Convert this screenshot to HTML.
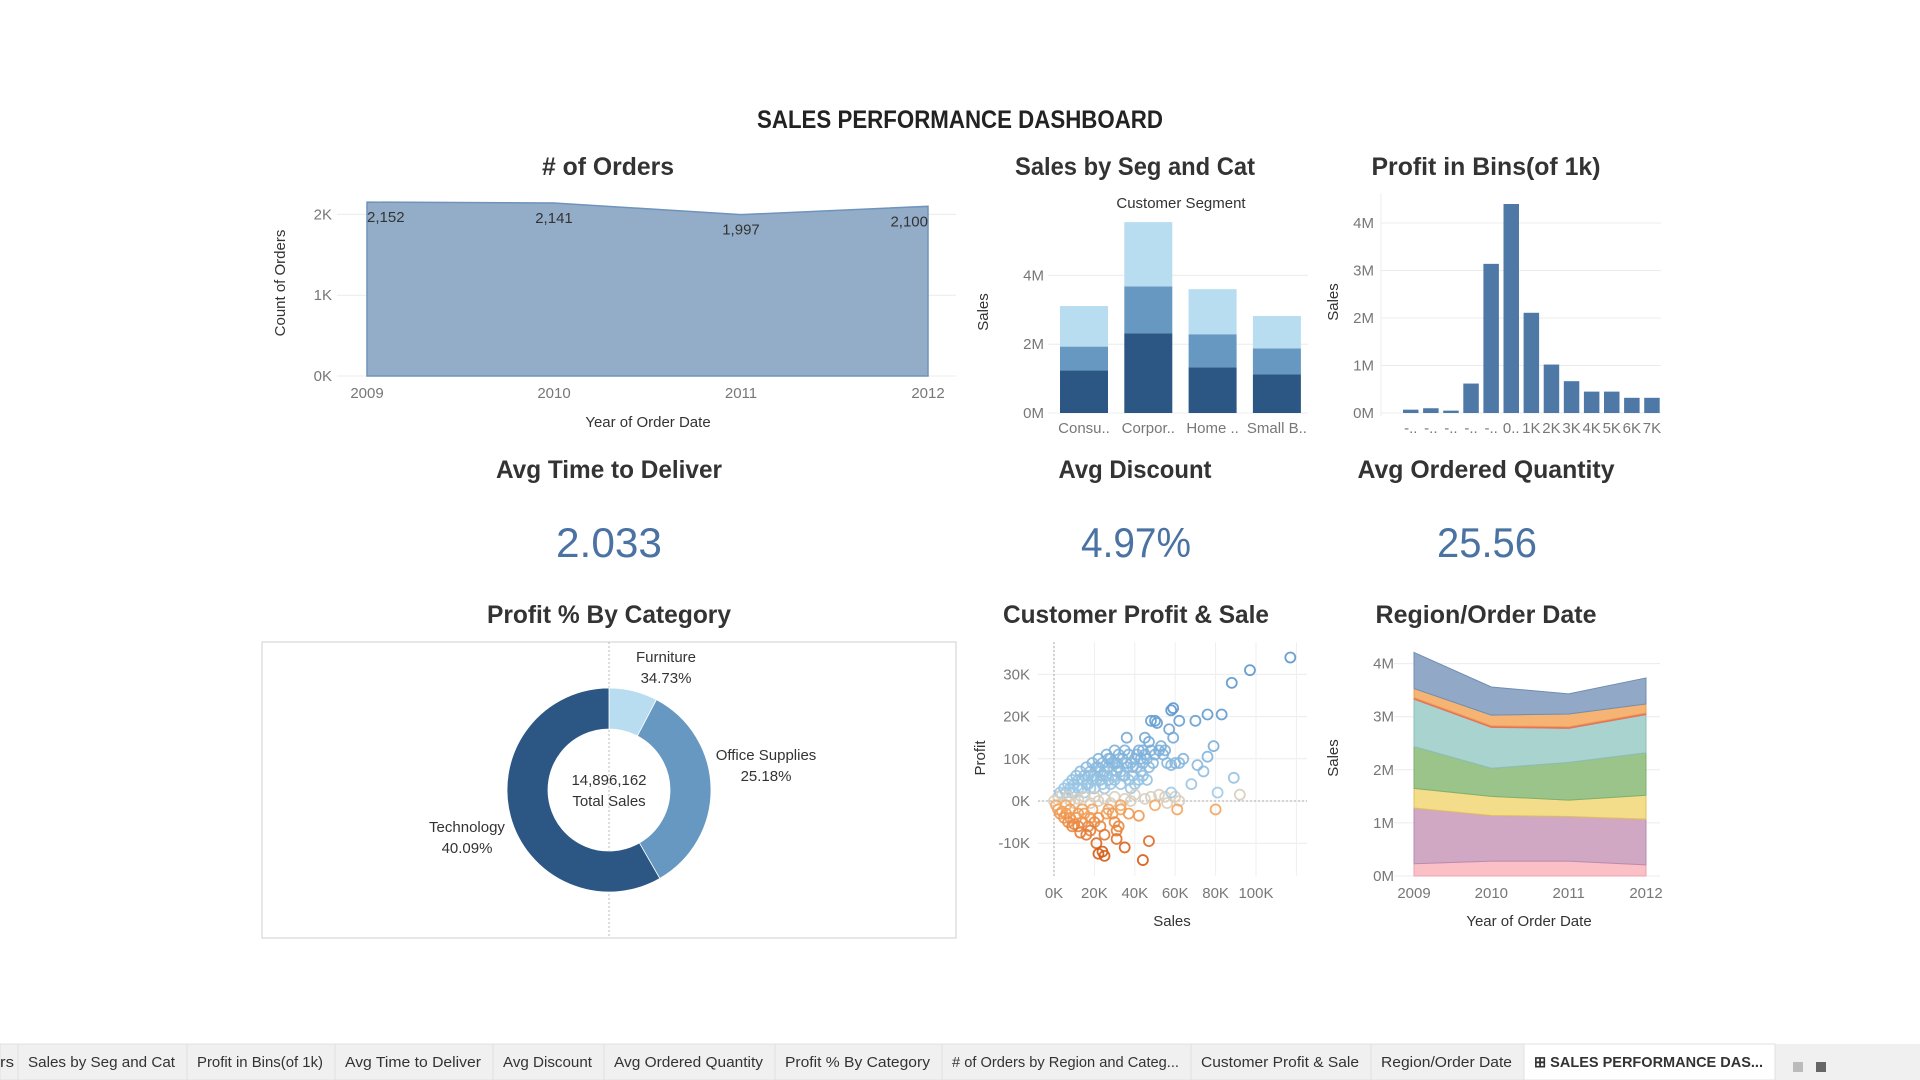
<!DOCTYPE html>
<html><head><meta charset="utf-8"><title>Sales Performance Dashboard</title>
<style>
html,body{margin:0;padding:0;background:#fff;width:1920px;height:1080px;overflow:hidden}
svg{display:block;font-family:"Liberation Sans",sans-serif}
.t{font-weight:bold;fill:#333;font-size:25px}
.tick{fill:#777;font-size:15px}
.lab{fill:#333;font-size:15px}
.kpi{fill:#4a72a3;font-size:42px}
.tab{fill:#333;font-size:15px}
</style></head>
<body>
<svg id="dash" width="1920" height="1080" viewBox="0 0 1920 1080">
<text x="960" y="128" text-anchor="middle" font-size="25" font-weight="bold" fill="#222" textLength="406" lengthAdjust="spacingAndGlyphs">SALES PERFORMANCE DASHBOARD</text>
<text class="t" x="608" y="175" text-anchor="middle" textLength="132" lengthAdjust="spacingAndGlyphs"># of Orders</text>
<text class="t" x="1135" y="175" text-anchor="middle" textLength="240" lengthAdjust="spacingAndGlyphs">Sales by Seg and Cat</text>
<text class="t" x="1486" y="175" text-anchor="middle" textLength="229" lengthAdjust="spacingAndGlyphs">Profit in Bins(of 1k)</text>
<text class="t" x="609" y="478" text-anchor="middle" textLength="226" lengthAdjust="spacingAndGlyphs">Avg Time to Deliver</text>
<text class="t" x="1135" y="478" text-anchor="middle" textLength="153" lengthAdjust="spacingAndGlyphs">Avg Discount</text>
<text class="t" x="1486" y="478" text-anchor="middle" textLength="257" lengthAdjust="spacingAndGlyphs">Avg Ordered Quantity</text>
<text class="kpi" x="609" y="557" text-anchor="middle" textLength="106" lengthAdjust="spacingAndGlyphs">2.033</text>
<text class="kpi" x="1136" y="557" text-anchor="middle" textLength="110" lengthAdjust="spacingAndGlyphs">4.97%</text>
<text class="kpi" x="1487" y="557" text-anchor="middle" textLength="100" lengthAdjust="spacingAndGlyphs">25.56</text>
<text class="t" x="609" y="623" text-anchor="middle" textLength="244" lengthAdjust="spacingAndGlyphs">Profit % By Category</text>
<text class="t" x="1136" y="623" text-anchor="middle" textLength="266" lengthAdjust="spacingAndGlyphs">Customer Profit &amp; Sale</text>
<text class="t" x="1486" y="623" text-anchor="middle" textLength="221" lengthAdjust="spacingAndGlyphs">Region/Order Date</text>
<g id="orders"></g>
<g id="seg"></g>
<g id="bins"></g>
<g id="donut"></g>
<g id="scatter"></g>
<g id="region"></g>
<g id="tabs"></g>
</svg>
<script>
const orderYears = [2009, 2010, 2011, 2012];
const orderCounts = [2152, 2141, 1997, 2100];
const orderTicks = ["0K", "1K", "2K"];

const segCategories = ["Consu..", "Corpor..", "Home ..", "Small B.."];
const segTechnology = [1.24, 2.32, 1.33, 1.12];
const segOffice = [0.69, 1.36, 0.96, 0.76];
const segFurniture = [1.18, 1.87, 1.31, 0.94];
const segTicks = ["0M", "2M", "4M"];

const binLabels = ["-..", "-..", "-..", "-..", "-..", "0..", "1K", "2K", "3K", "4K", "5K", "6K", "7K"];
const binSales = [0.07, 0.10, 0.05, 0.62, 3.14, 4.40, 2.11, 1.02, 0.67, 0.45, 0.45, 0.32, 0.32];
const binTicks = ["0M", "1M", "2M", "3M", "4M"];

const donutCategories = ["Furniture", "Office Supplies", "Technology"];
const donutShares = [0.077, 0.340, 0.583];
const donutProfitPct = ["34.73%", "25.18%", "40.09%"];
const totalSales = "14,896,162";

const scatterSales = [2,3,4,5,6,7,8,9,10,11,12,13,14,15,16,17,18,19,20,21,22,23,24,25,26,27,28,29,30,31,32,33,34,35,36,37,38,39,40,41,42,43,44,45,46,47,48,49,50,52,54,56,58,60,62,64,53,55,47,44,10,12,14,15,17,19,20,21,23,24,25,26,27,28,30,31,33,35,37,38,40,42,44,46,29,32,34,36,24,18,16,9,7,22,27,30,39,41,43,
8,12,15,20,25,30,35,40,45,48,55,60,62,50,56,58,52,38,28,33,18,22,10,81,92,89,80,61,68,74,71,76,79,
117,97,88,59,58,83,76,70,50,48,51,62,57,36,45,59,
0,1,2,3,4,5,6,7,8,9,10,11,12,13,14,15,16,17,18,19,20,21,22,23,24,25,26,27,29,30,31,31,32,33,35,37,42,44,47,25,22,18,14,6,8,12];
const scatterProfit = [1,2,1.5,3,2,4,3,5,4,6,3,7,5,6,8,4,7,9,6,8,10,5,9,7,11,8,10,6,12,9,11,7,10,12,8,11,9,6,10,8,12,7,9,11,10,8,12,9,11,12,11,9,8.5,9,9,10,13,12,14,12,2,5,3,2,6,5,3,5,7,4,3,6,5,4,5,7,4,6,5,3,4,5,6,5,9,8,6,9,6,3,4,2,1,8,10,9,8,11,10,
0,0.5,1,1,0.5,1,0.5,1.5,0.5,1,1,1,0,-1,-0.5,2,1.5,0,-0.5,-1,-0.5,0,-0.5,2,1.5,5.5,-2,-2,4,7,8.5,10.5,13,
34,31,28,22,21.5,20.5,20.5,19,19,19,18.5,19,17,15,15,15,
0,-1,-2,-3,-2.5,-4,-3,-5,-4,-6,-5.5,-4,-6,-7.5,-5,-3,-8,-6,-4,-2,-5,-10,-12.5,-6,-12,-13,-3,-2,-3,-5,-7,-9,-6,-2,-11,-3,-3.5,-14,-9.5,-8,-4,-7,-2,-1,-2,-3];
const scatterXTicks = ["0K","20K","40K","60K","80K","100K"];
const scatterYTicks = ["-10K","0K","10K","20K","30K"];

const regionYears = [2009, 2010, 2011, 2012];
const regionPink = [0.23, 0.28, 0.28, 0.21];
const regionPurple = [1.05, 0.86, 0.84, 0.86];
const regionYellow = [0.37, 0.36, 0.31, 0.45];
const regionGreen = [0.79, 0.53, 0.71, 0.80];
const regionTeal = [0.89, 0.77, 0.64, 0.72];
const regionRed = [0.03, 0.03, 0.03, 0.03];
const regionOrange = [0.17, 0.20, 0.24, 0.17];
const regionBlue = [0.68, 0.53, 0.38, 0.49];
const regionTicks = ["0M", "1M", "2M", "3M", "4M"];

const tabNames = ["rs","Sales by Seg and Cat","Profit in Bins(of 1k)","Avg Time to Deliver","Avg Discount","Avg Ordered Quantity","Profit % By Category","# of Orders by Region and Categ...","Customer Profit & Sale","Region/Order Date","\u229E SALES PERFORMANCE DAS..."];

const NS = "http://www.w3.org/2000/svg";
function mk(parent, tag, attrs, txt) {
  const e = document.createElementNS(NS, tag);
  for (const k in attrs) e.setAttribute(k, attrs[k]);
  if (txt !== undefined) e.textContent = txt;
  parent.appendChild(e);
  return e;
}
function grid(g, x1, x2, y) {
  const l = mk(g, "line", {x1: x1, x2: x2, y1: y, y2: y, stroke: "#ececec", "stroke-width": 1});
  
  
}
function txt(g, x, y, t, cls, anchor, name, extra) {
  const e = mk(g, "text", Object.assign({x: x, y: y, class: cls, "text-anchor": anchor}, extra || {}), t);
  
  
  return e;
}

// orders
(function () {
  const g = document.getElementById("orders");
  const x = i => 367 + i * (928 - 367) / 3;
  const y = v => 376 - v * 0.0808;
  orderTicks.forEach((t, i) => {
    grid(g, 337, 956, y(i * 1000));
    txt(g, 332, y(i * 1000) + 5, t, "tick", "end", "orders-y-tick");
  });
  let d = "M" + x(0) + "," + y(0);
  orderCounts.forEach((v, i) => { d += " L" + x(i) + "," + y(v); });
  d += " L" + x(3) + "," + y(0) + " Z";
  const p = mk(g, "path", {d: d, fill: "#93adc9", stroke: "#6f93bb", "stroke-width": 1.5});
  
  
  orderCounts.forEach((v, i) => {
    const a = i === 0 ? "start" : (i === 3 ? "end" : "middle");
    txt(g, x(i), y(v) + 20, v.toLocaleString("en-US"), "lab", a, "orders-value-label");
  });
  orderYears.forEach((yr, i) => txt(g, x(i), 398, String(yr), "tick", "middle", "orders-x-tick"));
  txt(g, 648, 427, "Year of Order Date", "lab", "middle", "orders-x-axis-title");
  txt(g, 0, 0, "Count of Orders", "lab", "middle", "orders-y-axis-title", {transform: "translate(285,283) rotate(-90)"});
})();

// sales by segment
(function () {
  const g = document.getElementById("seg");
  const y = v => 413 - v * 34.4;
  segTicks.forEach((t, i) => {
    grid(g, 1048, 1308, y(i * 2));
    txt(g, 1044, y(i * 2) + 5, t, "tick", "end", "seg-y-tick");
  });
  txt(g, 1181, 208, "Customer Segment", "lab", "middle", "seg-header");
  txt(g, 0, 0, "Sales", "lab", "middle", "seg-y-axis-title", {transform: "translate(988,312) rotate(-90)"});
  const layers = [[segTechnology, "#2c5784"], [segOffice, "#6798c1"], [segFurniture, "#b9ddf0"]];
  segCategories.forEach((c, i) => {
    const x0 = 1060 + i * 64.3;
    let base = 0;
    layers.forEach(([arr, col]) => {
      const r = mk(g, "rect", {x: x0, width: 48, y: y(base + arr[i]), height: arr[i] * 34.4, fill: col});
      
      
      base += arr[i];
    });
    txt(g, x0 + 24, 433, c, "tick", "middle", "seg-x-tick");
  });
})();

// profit bins
(function () {
  const g = document.getElementById("bins");
  const y = v => 413 - v * 47.5;
  binTicks.forEach((t, i) => {
    grid(g, 1381, 1661, y(i));
    txt(g, 1374, y(i) + 5, t, "tick", "end", "bins-y-tick");
  });
  const ax = mk(g, "line", {x1: 1381, x2: 1381, y1: 193, y2: 416, stroke: "#eee"});
  
  
  txt(g, 0, 0, "Sales", "lab", "middle", "bins-y-axis-title", {transform: "translate(1338,302) rotate(-90)"});
  binSales.forEach((v, i) => {
    const x0 = 1403 + i * 20.1;
    const r = mk(g, "rect", {x: x0, width: 15.5, y: y(v), height: v * 47.5, fill: "#4e79a7"});
    
    
    txt(g, x0 + 7.75, 433, binLabels[i], "tick", "middle", "bins-x-tick");
  });
})();

// donut
(function () {
  const g = document.getElementById("donut");
  const box = mk(g, "rect", {x: 262, y: 642, width: 694, height: 296, fill: "none", stroke: "#cfcfcf"});
  
  
  const dl = mk(g, "line", {x1: 609, x2: 609, y1: 642, y2: 938, stroke: "#bbb", "stroke-dasharray": "2,2"});
  
  
  const cx = 609, cy = 790, R = 102, r = 61;
  const cols = ["#b9ddf0", "#6798c1", "#2c5784"];
  let a0 = 0;
  const pt = (a, rad) => [cx + rad * Math.sin(a), cy - rad * Math.cos(a)];
  donutShares.forEach((s, i) => {
    const a1 = a0 + s * 2 * Math.PI;
    const lg = s > 0.5 ? 1 : 0;
    const [x1, y1] = pt(a0, R), [x2, y2] = pt(a1, R), [x3, y3] = pt(a1, r), [x4, y4] = pt(a0, r);
    const d = `M${x1},${y1} A${R},${R} 0 ${lg} 1 ${x2},${y2} L${x3},${y3} A${r},${r} 0 ${lg} 0 ${x4},${y4} Z`;
    const p = mk(g, "path", {d: d, fill: cols[i], stroke: "#fff", "stroke-width": 0.8});
    
    
    a0 = a1;
  });
  const pos = [[666, 662], [766, 760], [467, 832]];
  donutCategories.forEach((c, i) => {
    txt(g, pos[i][0], pos[i][1], c, "lab", "middle", "donut-category-label");
    txt(g, pos[i][0], pos[i][1] + 21, donutProfitPct[i], "lab", "middle", "donut-percent-label");
  });
  txt(g, cx, 785, totalSales, "lab", "middle", "donut-total-value");
  txt(g, cx, 806, "Total Sales", "lab", "middle", "donut-total-label");
})();

// scatter
(function () {
  const g = document.getElementById("scatter");
  const x = v => 1054 + v * 2.02;
  const y = v => 801 - v * 4.22;
  scatterYTicks.forEach((t, i) => {
    const v = (i - 1) * 10;
    grid(g, 1038, 1307, y(v));
    txt(g, 1030, y(v) + 5, t, "tick", "end", "scatter-y-tick");
  });
  scatterXTicks.forEach((t, i) => {
    const v = i * 20;
    const l = mk(g, "line", {x1: x(v), x2: x(v), y1: 642, y2: 876, stroke: "#efefef"});
    
    
    txt(g, x(v), 898, t, "tick", "middle", "scatter-x-tick");
  });
  const l2 = mk(g, "line", {x1: x(120), x2: x(120), y1: 642, y2: 876, stroke: "#efefef"});
  
  
  const z1 = mk(g, "line", {x1: 1038, x2: 1307, y1: y(0), y2: y(0), stroke: "#aaa", "stroke-dasharray": "2,2"});
  
  
  const z2 = mk(g, "line", {x1: x(0), x2: x(0), y1: 642, y2: 876, stroke: "#aaa", "stroke-dasharray": "2,2"});
  
  
  txt(g, 1172, 926, "Sales", "lab", "middle", "scatter-x-axis-title");
  txt(g, 0, 0, "Profit", "lab", "middle", "scatter-y-axis-title", {transform: "translate(985,758) rotate(-90)"});
  function lerp(a, b, t) { return a.map((v, i) => Math.round(v + (b[i] - v) * t)); }
  function color(p) {
    if (p >= 2) { const t = Math.min(1, (p - 2) / 20); return "rgb(" + lerp([160, 202, 230], [90, 150, 205], t).join(",") + ")"; }
    if (p > -1) return "rgb(216,206,190)";
    const t = Math.min(1, (-p - 1) / 11);
    return "rgb(" + lerp([246, 170, 100], [214, 90, 20], t).join(",") + ")";
  }
  scatterSales.forEach((s, i) => {
    const c = mk(g, "circle", {cx: x(s), cy: y(scatterProfit[i]), r: 5, fill: "none", stroke: color(scatterProfit[i]), "stroke-width": 1.8, opacity: 0.9});
    
    
  });
})();

// region area
(function () {
  const g = document.getElementById("region");
  const x = i => 1414 + i * (1646 - 1414) / 3;
  const y = v => 876 - v * 53.1;
  regionTicks.forEach((t, i) => {
    grid(g, 1394, 1660, y(i));
    txt(g, 1394, y(i) + 5, t, "tick", "end", "region-y-tick");
  });
  regionYears.forEach((yr, i) => txt(g, x(i), 898, String(yr), "tick", "middle", "region-x-tick"));
  txt(g, 1529, 926, "Year of Order Date", "lab", "middle", "region-x-axis-title");
  txt(g, 0, 0, "Sales", "lab", "middle", "region-y-axis-title", {transform: "translate(1338,758) rotate(-90)"});
  const layers = [[regionPink, "#fbc0c6", "#e9a3b0"], [regionPurple, "#d0a8c4", "#b98bb0"], [regionYellow, "#f3dc8a", "#e2c15a"],
    [regionGreen, "#9ac48a", "#7fb06e"], [regionTeal, "#a9d3cf", "#8bbfba"], [regionRed, "#e8735a", "#e8735a"],
    [regionOrange, "#f5b474", "#ee9e55"], [regionBlue, "#91a9c7", "#6f8db3"]];
  let base = [0, 0, 0, 0];
  layers.forEach(([arr, fill, stroke]) => {
    const top = base.map((b, i) => b + arr[i]);
    let d = "M" + x(0) + "," + y(top[0]);
    for (let i = 1; i < 4; i++) d += " L" + x(i) + "," + y(top[i]);
    for (let i = 3; i >= 0; i--) d += " L" + x(i) + "," + y(base[i]);
    d += " Z";
    const p = mk(g, "path", {d: d, fill: fill, stroke: stroke, "stroke-width": 1});
    
    
    base = top;
  });
})();

// tabs
(function () {
  const g = document.getElementById("tabs");
  const bg = mk(g, "rect", {x: 0, y: 1044, width: 1920, height: 36, fill: "#f0f0f0"});
  
  
  const seps = [0, 18, 187, 335, 493, 604, 775, 942, 1191, 1371, 1524, 1775];
  tabNames.forEach((n, i) => {
    const x0 = seps[i], x1 = seps[i + 1];
    const active = i === tabNames.length - 1;
    const r = mk(g, "rect", {x: x0, y: 1044, width: x1 - x0, height: 36, fill: active ? "#ffffff" : "#f0f0f0", stroke: "#e0e0e0"});
    
    
    const tx = i === 0 ? 0 : x0 + 10;
    const w = i === 0 ? 14 : x1 - x0 - 22;
    const t = mk(g, "text", {x: tx, y: 1067, class: "tab", textLength: w, lengthAdjust: "spacingAndGlyphs", "font-weight": active ? "bold" : "normal"}, n);
    
    
  });
  const icons = [[1793, "#bbb"], [1816, "#666"]];
  icons.forEach(([ix, c]) => {
    const r = mk(g, "rect", {x: ix, y: 1062, width: 10, height: 10, fill: c});
    
    
  });
})();
</script>
</body></html>
